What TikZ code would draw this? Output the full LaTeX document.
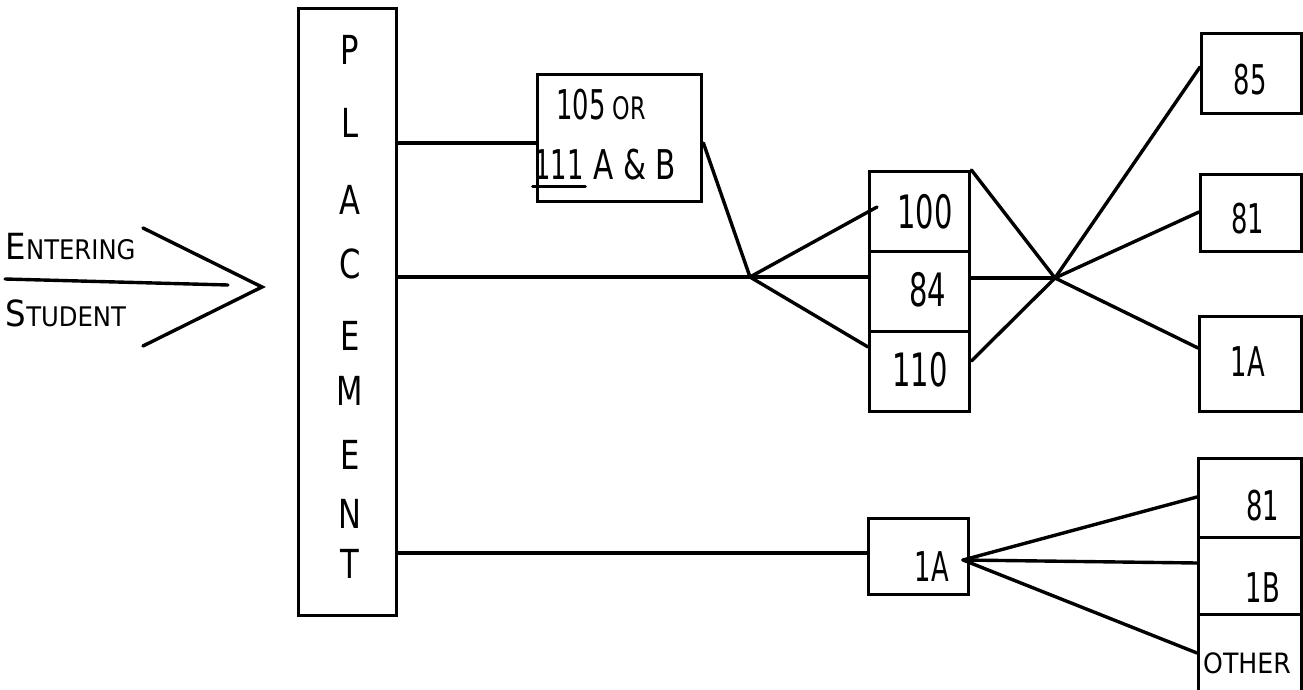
\documentclass[tikz,border=0pt]{standalone}
\usepackage{fontspec}
\newfontfamily\lf{DejaVu Sans Condensed}
\newcommand{\nar}[2][0.7]{\scalebox{#1}[1]{#2}}
\begin{document}
\begin{tikzpicture}[x=0.5pt,y=-0.5pt,line width=1.7pt,line cap=round,
  box/.style={draw,line width=1.7pt,inner sep=0pt,anchor=north west},
  lbl/.style={inner sep=0pt,font=\lf\fontsize{20.5}{20.5}\selectfont},
  plet/.style={inner sep=0pt,font=\lf\fontsize{20}{20}\selectfont},
  big/.style={inner sep=0pt,anchor=base west,font=\lf}]
\useasboundingbox (0,0) rectangle (1303,690);
\clip (0,0) rectangle (1303,690);
\fill[white] (0,0) rectangle (1303,690);

% entering student arrow
\node[big] (ent) at (4,259) {\fontsize{18}{18}\selectfont E\fontsize{13.5}{13.5}\selectfont NTERING};
\node[big] (stu) at (4,327) {\fontsize{18}{18}\selectfont S\fontsize{13.5}{13.5}\selectfont TUDENT};
\coordinate (tip) at (262,287);
\coordinate (aup) at (143,228);
\coordinate (alo) at (143,346);
\coordinate (sh1) at (5,279);
\coordinate (sh2) at (228,285);
\draw (aup) -- (tip) -- (alo);
\draw (sh1) -- (sh2);

% placement box
\node[box,minimum width=49pt,minimum height=303.5pt] (plc) at (297,7) {};
\node[plet] (pl1) at (350,50) {\nar[0.85]{P}};
\node[plet] (pl2) at (350,123) {\nar[0.85]{L}};
\node[plet] (pl3) at (350,200) {\nar[0.85]{A}};
\node[plet] (pl4) at (350,264) {\nar[0.85]{C}};
\node[plet] (pl5) at (350,336) {\nar[0.85]{E}};
\node[plet] (pl6) at (350,391) {\nar[0.85]{M}};
\node[plet] (pl7) at (350,455) {\nar[0.85]{E}};
\node[plet] (pl8) at (350,514) {\nar[0.85]{N}};
\node[plet] (pl9) at (350,564) {\nar[0.85]{T}};

% 105 or 111 A & B
\node[box,minimum width=82pt,minimum height=63.5pt] (b105) at (536,73) {};
\node[lbl] (t105) at (601,105) {\nar{105}\,{\fontsize{15.5}{15.5}\selectfont\nar[0.8]{OR}}};
\node[lbl] (t111) at (559,165) {\nar{111}};
\draw[line width=1.5pt] ([yshift=-2.5pt]t111.south west) -- ([yshift=-2.5pt]t111.south east);
\node[lbl] (tab) at (635,165) {\nar[0.8]{A \& B}};

% middle stack
\node[box,minimum width=50pt,minimum height=40pt] (m100) at (868,170) {};
\node[box,minimum width=50pt,minimum height=40pt] (m84) at (868,250) {};
\node[box,minimum width=50pt,minimum height=40pt] (m110) at (868,330) {};
\node[lbl,font=\lf\fontsize{23}{23}\selectfont] (t100) at (925,212) {\nar{100}};
\node[lbl,font=\lf\fontsize{23}{23}\selectfont] (t84) at (928,290) {\nar{84}};
\node[lbl,font=\lf\fontsize{23}{23}\selectfont] (t110) at (920,370) {\nar{110}};

% right upper boxes
\node[box,minimum width=50pt,minimum height=40pt] (r85) at (1200,32) {};
\node[box,minimum width=50.5pt,minimum height=38.5pt] (r81) at (1199,173) {};
\node[box,minimum width=51pt,minimum height=47.5pt] (r1a) at (1198,315) {};
\node[lbl] (t85) at (1250,80) {\nar{85}};
\node[lbl] (t81) at (1248,219) {\nar{81}};
\node[lbl] (t1a) at (1248,362) {\nar{1A}};

% lower
\node[box,minimum width=50pt,minimum height=38pt] (lo1a) at (867,517) {};
\node[lbl] (tl1a) at (932,567) {\nar{1A}};
\node[box,minimum width=51.5pt,minimum height=39.5pt] (b81) at (1197,457) {};
\node[box,minimum width=51.5pt,minimum height=38.5pt] (b1b) at (1197,536) {};
\node[box,minimum width=51.5pt,minimum height=45pt] (both) at (1197,613) {};
\node[lbl] (tb81) at (1263,506) {\nar{81}};
\node[lbl] (tb1b) at (1263,588) {\nar{1B}};
\node[lbl] (tboth) at (1247,663) {\fontsize{14}{14}\selectfont OTHER};

% helper coordinates
\coordinate (c1) at (750,277);
\coordinate (c2) at (1055,278);
\coordinate (y1) at (0,143);
\coordinate (y3) at (0,553);
\coordinate (e100) at (877,207);
\coordinate (y110) at (0,347);
\coordinate (y110r) at (0,361);
\coordinate (y85) at (0,67);
\coordinate (y81) at (0,212);
\coordinate (y1a) at (0,348);
\coordinate (yb81) at (0,497);
\coordinate (yb1b) at (0,563);
\coordinate (yboth) at (0,653);
\coordinate (f1) at (963,560);

% connectors
\draw (plc.east |- y1) -- (b105.west |- y1);
\draw (b105.east |- y1) -- (c1);
\draw (plc.east |- c1) -- (m84.west |- c1);
\draw (c1) -- (e100);
\draw (c1) -- (m110.west |- y110);
\draw (m100.north east) -- (c2);
\draw (m84.east |- c2) -- (c2);
\draw (m110.east |- y110r) -- (c2);
\draw (c2) -- (r85.west |- y85);
\draw (c2) -- (r81.west |- y81);
\draw (c2) -- (r1a.west |- y1a);
\draw (plc.east |- y3) -- (lo1a.west |- y3);
\draw (f1) -- (b81.west |- yb81);
\draw (f1) -- (b1b.west |- yb1b);
\draw (f1) -- (both.west |- yboth);
\end{tikzpicture}
\end{document}
